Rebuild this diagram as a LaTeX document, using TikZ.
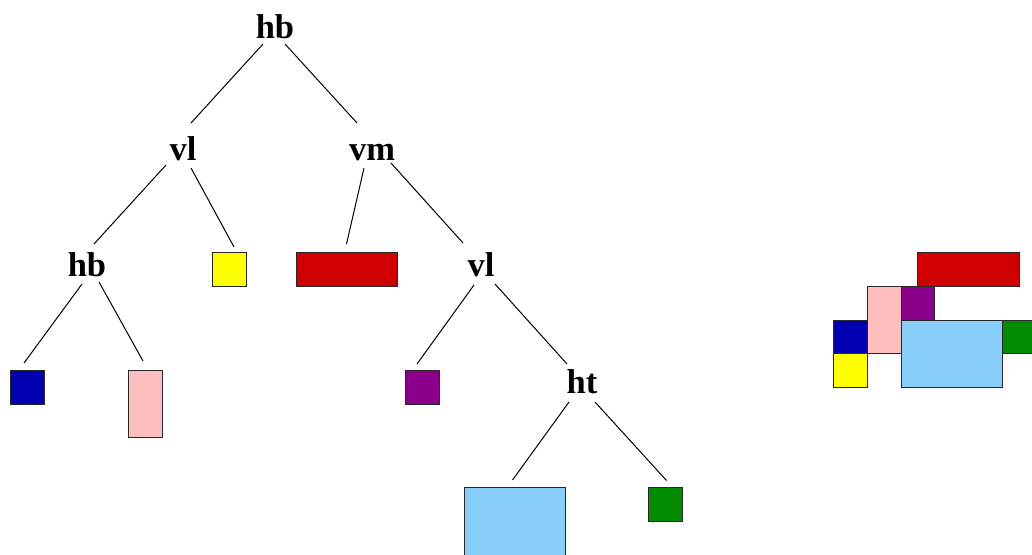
\documentclass[tikz,border=0pt]{standalone}
\usepackage{fontspec}
\setmainfont{Liberation Serif}
\usetikzlibrary{calc}
\definecolor{cblue}{RGB}{0,0,176}
\definecolor{cyellow}{RGB}{255,255,0}
\definecolor{cred}{RGB}{208,0,0}
\definecolor{cpink}{RGB}{255,190,190}
\definecolor{cpurple}{RGB}{139,0,139}
\definecolor{clight}{RGB}{135,206,250}
\definecolor{cgreen}{RGB}{0,139,0}
\definecolor{cedge}{RGB}{40,40,40}
\begin{document}
\begin{tikzpicture}[x=1pt,y=-1pt,
  lab/.style={anchor=base,inner sep=0pt,font=\fontsize{34.5}{40}\selectfont\bfseries},
  leaf/.style={draw=cedge,line width=1pt,inner sep=0pt,outer sep=0pt},
  sq/.style={leaf,minimum width=34,minimum height=34},
  tall/.style={leaf,minimum width=34,minimum height=67},
  wide/.style={leaf,minimum width=101,minimum height=34},
  big/.style={leaf,minimum width=101,minimum height=70},
  edge/.style={line width=1pt,black}]
\useasboundingbox (0,0) rectangle (1032,554);
% labels
\node[lab] (root) at (275,38) {hb};
\node[lab] (vl) at (183,160) {vl};
\node[lab] (vm) at (372,160) {vm};
\node[lab] (hbb) at (87,276) {hb};
\node[lab] (vlb) at (481,276) {vl};
\node[lab] (ht) at (582,393) {ht};
% leaves
\node[sq,fill=cblue] (lblue) at (27,387) {};
\node[tall,fill=cpink] (lpink) at (145,403.5) {};
\node[sq,fill=cyellow] (lyellow) at (229,269) {};
\node[wide,fill=cred] (lred) at (346.5,269) {};
\node[sq,fill=cpurple] (lpurple) at (422,387) {};
\node[big,fill=clight] (llight) at (514.5,522) {};
\node[sq,fill=cgreen] (lgreen) at (665.5,504.5) {};
% connectors
\draw[edge] ($(root.base)+(-12,6)$) -- ($(vl.base)+(8,-37)$);
\draw[edge] ($(root.base)+(10,6)$) -- ($(vm.base)+(-15,-37)$);
\draw[edge] ($(vl.base)+(-17,5)$) -- ($(hbb.base)+(7,-32)$);
\draw[edge] ($(vl.base)+(8,8)$) -- ($(lyellow.north)+(5,-5)$);
\draw[edge] ($(vm.base)+(-8,8)$) -- ($(lred.north)+(0,-8)$);
\draw[edge] ($(vm.base)+(19,3)$) -- ($(vlb.base)+(-18,-33)$);
\draw[edge] ($(hbb.base)+(-5,8)$) -- ($(lblue.north)+(-3,-7)$);
\draw[edge] ($(hbb.base)+(12,6)$) -- ($(lpink.north)+(-2,-9)$);
\draw[edge] ($(vlb.base)+(-7,9)$) -- ($(lpurple.north)+(-5,-6)$);
\draw[edge] ($(vlb.base)+(14,8)$) -- ($(ht.base)+(-15,-29)$);
\draw[edge] ($(ht.base)+(-13,9)$) -- ($(llight.north)+(-2,-7)$);
\draw[edge] ($(ht.base)+(13,9)$) -- ($(lgreen.north)+(1,-7)$);
% composite layout
\begin{scope}[every path/.style={draw=cedge,line width=1pt}]
\filldraw[fill=cred] (917,252) rectangle (1019,286);
\filldraw[fill=cpink] (867,286) rectangle (901,353);
\filldraw[fill=cpurple] (901,286) rectangle (934,320);
\filldraw[fill=cblue] (833,320) rectangle (867,353);
\filldraw[fill=cyellow] (833,353) rectangle (867,387);
\filldraw[fill=clight] (901,320) rectangle (1002,387);
\filldraw[fill=cgreen] (1002,320) rectangle (1036,353);
\end{scope}
\end{tikzpicture}
\end{document}
